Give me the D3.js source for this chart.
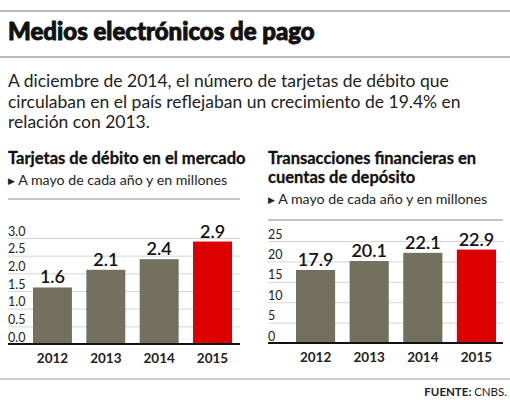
<!DOCTYPE html>
<html>
<head>
<meta charset="utf-8">
<script src="https://cdn.jsdelivr.net/npm/d3@7"></script>
<style>
  body { margin: 0; background: #fff; }
  svg { display: block; font-family: "Lato", "Noto Sans", sans-serif; }
</style>
</head>
<body>
<svg id="chart" width="510" height="400"></svg>
<script>
// chart data
const years = ["2012", "2013", "2014", "2015"];
const tarjetas = [1.6, 2.1, 2.4, 2.9];
const transacciones = [17.9, 20.1, 22.1, 22.9];
const tarjetasTicks = [0, 0.5, 1, 1.5, 2, 2.5, 3];
const transTicks = [0, 5, 10, 15, 20, 25];

const intro = [
  "A diciembre de 2014, el número de tarjetas de débito que",
  "circulaban en el país reflejaban un crecimiento de 19.4% en",
  "relación con 2013."
];

const svg = d3.select("#chart");
const grayBar = "#737060", redBar = "#dd0000";

// header rules + title
svg.append("line").attr("x1", 0).attr("x2", 510).attr("y1", 11).attr("y2", 11)
  .attr("stroke", "#777").attr("stroke-width", 1.2);
svg.append("text").attr("x", 8).attr("y", 40)
  .attr("font-size", 24).attr("font-weight", 900).attr("fill", "#111")
  .attr("stroke", "#111").attr("stroke-width", 0.9)
  .text("Medios electrónicos de pago");
svg.append("line").attr("x1", 0).attr("x2", 510).attr("y1", 57).attr("y2", 57)
  .attr("stroke", "#777").attr("stroke-width", 1.2);

svg.selectAll("text.intro").data(intro).enter().append("text")
  .attr("class", "intro")
  .attr("x", 8).attr("y", (d, i) => 87 + i * 20.5)
  .attr("font-size", 17.5).attr("fill", "#222")
  .text(d => d);

// draw one bar panel
function panel(opts) {
  const g = svg.append("g");

  opts.titles.forEach((t, i) => {
    g.append("text").attr("x", opts.left).attr("y", opts.titleY + i * 19)
      .attr("font-size", 16.5).attr("font-weight", 700).attr("fill", "#111")
      .attr("stroke", "#111").attr("stroke-width", 0.3)
      .text(t);
  });
  const subY = opts.titleY + (opts.titles.length - 1) * 19 + 21;
  const sub = g.append("text").attr("x", opts.left).attr("y", subY)
    .attr("font-size", 14.2).attr("fill", "#222");
  sub.append("tspan").attr("font-size", 9).attr("dy", -1).text("\u25B6");
  sub.append("tspan").attr("dy", 1).text(" A mayo de cada año y en millones");
  g.append("line").attr("x1", opts.left).attr("x2", opts.right)
    .attr("y1", opts.ruleY).attr("y2", opts.ruleY)
    .attr("stroke", "#888").attr("stroke-width", 1);

  const x = d3.scaleBand().domain(years).range(opts.barRange).paddingInner(0.27).paddingOuter(0);
  const y = d3.scaleLinear().domain(opts.domain).range([opts.base, opts.top]);

  // grid + tick labels
  const yAxis = d3.axisRight(y).tickValues(opts.ticks)
    .tickSize(opts.right - opts.left).tickFormat(opts.fmt);
  const ga = g.append("g").attr("transform", `translate(${opts.left},0)`).call(yAxis);
  ga.select(".domain").remove();
  ga.selectAll(".tick line").attr("stroke", "#d6d6d6").attr("stroke-width", 1);
  ga.selectAll(".tick text").attr("x", 0).attr("dy", -3)
    .attr("text-anchor", "start").attr("font-size", 12.5).attr("fill", "#222")
    .attr("font-family", "Lato, sans-serif");

  // bars
  g.selectAll("rect.bar").data(opts.values).enter().append("rect")
    .attr("class", "bar")
    .attr("x", (d, i) => x(years[i]))
    .attr("width", x.bandwidth())
    .attr("y", d => y(d))
    .attr("height", d => y(0) - y(d))
    .attr("fill", (d, i) => i === years.length - 1 ? redBar : grayBar);

  g.selectAll("text.val").data(opts.values).enter().append("text")
    .attr("class", "val")
    .attr("x", (d, i) => x(years[i]) + x.bandwidth() / 2)
    .attr("y", d => y(d) - 4)
    .attr("text-anchor", "middle")
    .attr("font-size", 18).attr("font-weight", 600).attr("fill", "#111")
    .text(d => d.toFixed(1));

  // baseline
  g.append("line").attr("x1", opts.left).attr("x2", opts.right)
    .attr("y1", y(0)).attr("y2", y(0))
    .attr("stroke", "#111").attr("stroke-width", 2);

  // x labels
  const xAxis = d3.axisBottom(x).tickSize(0).tickPadding(0);
  const gx = g.append("g").attr("transform", `translate(0,${opts.base})`).call(xAxis);
  gx.select(".domain").remove();
  gx.selectAll(".tick text").attr("y", 19).attr("dy", null)
    .attr("font-size", 13.5).attr("font-weight", 700).attr("fill", "#222")
    .attr("font-family", "Lato, sans-serif");
}

panel({
  titles: ["Tarjetas de débito en el mercado"],
  titleY: 164, ruleY: 199,
  left: 8, right: 240,
  barRange: [33, 232],
  domain: [0, 3], base: 344, top: 238,
  ticks: tarjetasTicks, fmt: d3.format(".1f"),
  values: tarjetas
});

panel({
  titles: ["Transacciones financieras en", "cuentas de depósito"],
  titleY: 164, ruleY: 220,
  left: 268, right: 503,
  barRange: [296, 496],
  domain: [0, 25], base: 343, top: 241,
  ticks: transTicks, fmt: d3.format("d"),
  values: transacciones
});

// footer
svg.append("line").attr("x1", 0).attr("x2", 510).attr("y1", 379).attr("y2", 379)
  .attr("stroke", "#999").attr("stroke-width", 1);
const src = svg.append("text").attr("x", 507).attr("y", 396)
  .attr("text-anchor", "end").attr("font-size", 11.5).attr("fill", "#222");
src.append("tspan").attr("font-weight", 700).text("FUENTE: ");
src.append("tspan").text("CNBS.");
</script>
</body>
</html>
